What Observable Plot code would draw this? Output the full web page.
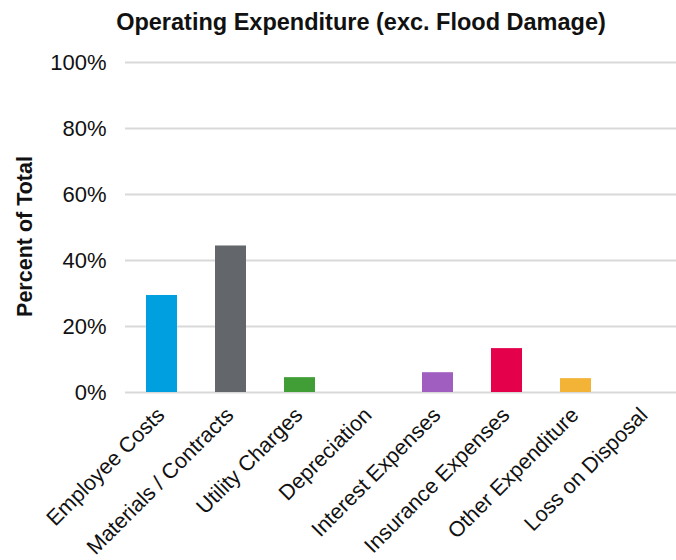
<!DOCTYPE html>
<html>
<head>
<meta charset="utf-8">
<script src="https://cdn.jsdelivr.net/npm/d3@7"></script>
<script src="https://cdn.jsdelivr.net/npm/@observablehq/plot@0.6"></script>
<style>
  html, body { margin: 0; padding: 0; background: #fff; }
  body { width: 676px; height: 560px; overflow: hidden; font-family: "Liberation Sans", Arial, sans-serif; }
  #title { height: 44px; line-height: 44px; text-align: center; padding-left: 46px; font-size: 23.5px; font-weight: bold; color: #111; white-space: nowrap; }
  svg { display: block; overflow: hidden; }
</style>
</head>
<body>
<div id="title">Operating Expenditure (exc. Flood Damage)</div>
<div id="chart"></div>
<script>
const categories = ["Employee Costs", "Materials / Contracts", "Utility Charges", "Depreciation", "Interest Expenses", "Insurance Expenses", "Other Expenditure", "Loss on Disposal"];
const values = [29.4, 44.4, 4.5, 0, 6.0, 13.3, 4.2, 0];
const yTicks = [0, 20, 40, 60, 80, 100];
const palette = ["#009FDF", "#63666A", "#419E37", "#A05EC0", "#E4004B", "#F2B336", "#F2B336", "#F2B336"];
const paletteDomain = ["Employee Costs", "Materials / Contracts", "Utility Charges", "Interest Expenses", "Insurance Expenses", "Other Expenditure", "Depreciation", "Loss on Disposal"];
const yLabel = "Percent of Total";

const data = categories.map((c, i) => ({category: c, value: values[i]}));

const chart = Plot.plot({
  width: 676,
  height: 516,
  marginLeft: 125,
  marginRight: -5,
  marginTop: 18,
  marginBottom: 168,
  style: {fontFamily: "'Liberation Sans', Arial, sans-serif", fontSize: "22px", color: "#111", background: "#fff"},
  x: {domain: categories, paddingInner: 0.553, paddingOuter: 0.28, label: null},
  y: {domain: [0, 100], label: null},
  color: {domain: paletteDomain, range: palette},
  marks: [
    Plot.gridY(yTicks, {stroke: "#d9d9d9", strokeOpacity: 1, strokeWidth: 2}),
    Plot.barY(data, {x: "category", y: "value", fill: "category"}),
    Plot.axisY(yTicks, {tickSize: 0, tickPadding: 19, tickFormat: d => d + "%", label: null, fontSize: 22}),
    Plot.axisX({tickSize: 0, tickPadding: 19, dx: -1, tickRotate: -45, label: null, fontSize: 21.5}),
    Plot.text([yLabel], {frameAnchor: "left", textAnchor: "middle", rotate: -90, dx: -100, dy: 9, fontWeight: "bold", fontSize: 21.5, fill: "#111"})
  ]
});
document.getElementById("chart").appendChild(chart);
</script>
</body>
</html>
